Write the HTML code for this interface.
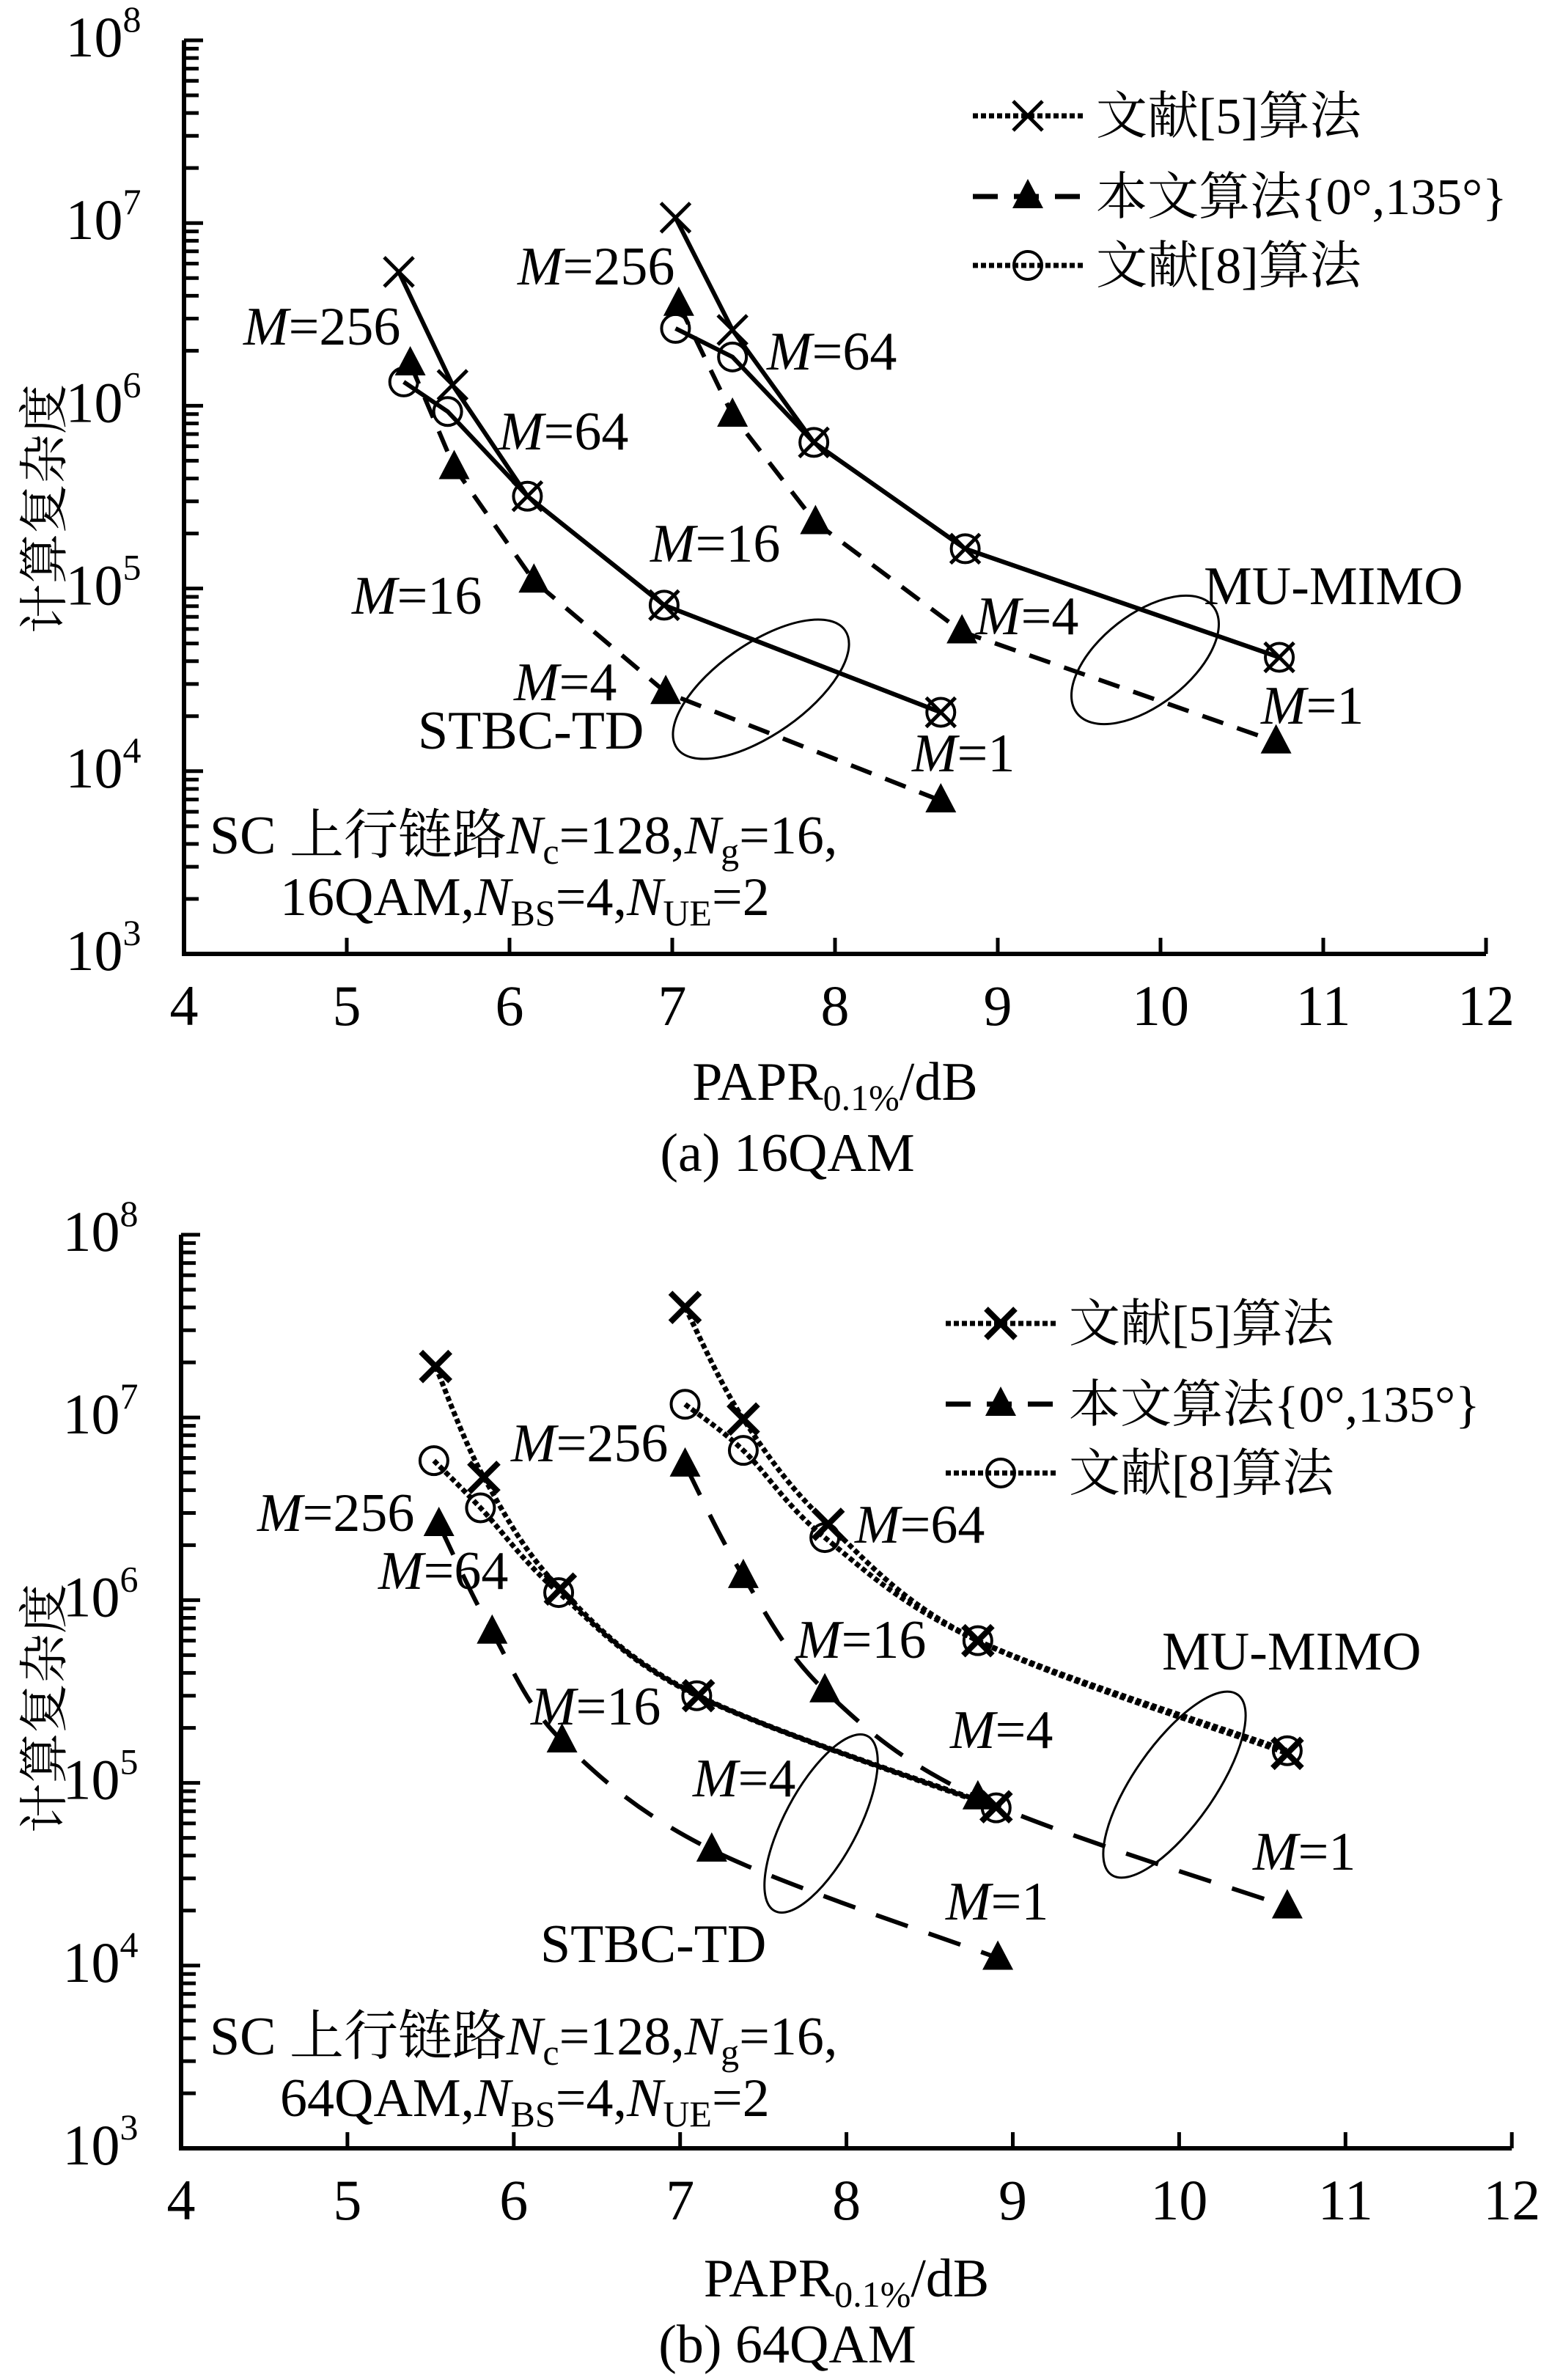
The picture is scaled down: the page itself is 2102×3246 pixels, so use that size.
<!DOCTYPE html>
<html><head><meta charset="utf-8"><style>
html,body{margin:0;padding:0;background:#fff;}
svg{display:block;}
svg text{font-family:"Liberation Serif","Noto Serif CJK SC",serif;fill:#000;}
</style></head><body>
<svg id="fig" width="2102" height="3246" viewBox="0 0 2102 3246" xmlns="http://www.w3.org/2000/svg" font-family="'Liberation Serif','Noto Serif CJK SC',serif"></svg>
<script>
// ---- Data: panel (a) 16QAM ----
const aRef5X_L=[5.32,5.65,6.11,6.95,8.65];
const aRef5Y_L=[5.4e6,1.3e6,3.2e5,8.1e4,2.1e4];
const aRef8X_L=[5.35,5.62,6.11,6.95,8.65];
const aRef8Y_L=[1.35e6,9.3e5,3.2e5,8.1e4,2.1e4];
const aOurX_L=[5.39,5.66,6.15,6.96,8.65];
const aOurY_L=[1.7e6,4.6e5,1.1e5,2.7e4,6.9e3];
const aRef5X_R=[7.02,7.37,7.87,8.80,10.73];
const aRef5Y_R=[1.07e7,2.6e6,6.3e5,1.65e5,4.2e4];
const aRef8X_R=[7.02,7.37,7.87,8.80,10.73];
const aRef8Y_R=[2.65e6,1.85e6,6.3e5,1.65e5,4.2e4];
const aOurX_R=[7.04,7.37,7.88,8.78,10.71];
const aOurY_R=[3.6e6,8.9e5,2.3e5,5.8e4,1.45e4];
// ---- Data: panel (b) 64QAM ----
const bRef5X_L=[5.53,5.82,6.28,7.11,8.90];
const bRef5Y_L=[1.9e7,4.7e6,1.15e6,3.0e5,7.4e4];
const bRef8X_L=[5.52,5.80,6.27,7.10,8.90];
const bRef8Y_L=[5.8e6,3.2e6,1.1e6,3.0e5,7.3e4];
const bOurX_L=[5.55,5.87,6.29,7.19,8.91];
const bOurY_L=[2.6e6,6.7e5,1.7e5,4.3e4,1.1e4];
const bRef5X_R=[7.03,7.38,7.89,8.79,10.65];
const bRef5Y_R=[4.0e7,9.8e6,2.6e6,6.0e5,1.45e5];
const bRef8X_R=[7.03,7.38,7.87,8.79,10.65];
const bRef8Y_R=[1.18e7,6.6e6,2.2e6,6.0e5,1.5e5];
const bOurX_R=[7.03,7.38,7.87,8.79,10.65];
const bOurY_R=[5.5e6,1.35e6,3.2e5,8.3e4,2.1e4];
// ---- Axis ticks ----
const xTicks=[4,5,6,7,8,9,10,11,12];
const yExps=[3,4,5,6,7,8];

const NS="http://www.w3.org/2000/svg";
const FF="'Liberation Serif','Noto Serif CJK SC',serif";
const svg=document.getElementById('fig');
function mk(tag,attrs,parent){const e=document.createElementNS(NS,tag);for(const k in attrs)e.setAttribute(k,attrs[k]);if(tag==='text')e.setAttribute('font-family',FF);(parent||svg).appendChild(e);return e;}

function panel(P){
  const g=mk('g',{});
  
  
  const sx=v=>P.x0+(v-4)*P.xu;
  const sy=v=>P.y8+(8-Math.log10(v))*P.dec;
  const y3=P.y8+5*P.dec, x12=sx(12);
  const ax=mk('path',{d:`M${P.x0} ${P.y8} V${y3} H${x12}`,fill:'none',stroke:'#000','stroke-width':6},g);
  
  
  xTicks.forEach(t=>{
    if(t>4) mk('line',{x1:sx(t),x2:sx(t),y1:y3,y2:y3-22,stroke:'#000','stroke-width':5},g);
    const tl=mk('text',{x:sx(t),y:P.xty,'font-size':78,'text-anchor':'middle'},g);
    tl.textContent=t;
    
    
  });
  yExps.forEach(e=>{
    const y=P.y8+(8-e)*P.dec;
    mk('line',{x1:P.x0,x2:P.x0+26,y1:y,y2:y,stroke:'#000','stroke-width':5},g);
    if(e<8){for(let m=2;m<=9;m++){const yy=P.y8+(8-e-Math.log10(m))*P.dec;mk('line',{x1:P.x0,x2:P.x0+20,y1:yy,y2:yy,stroke:'#000','stroke-width':5},g);}}
    const tl=mk('text',{x:P.x0-110,y:y+22,'font-size':78,'text-anchor':'middle'},g);
    
    
    tl.innerHTML=`10<tspan dy="-34" font-size="50">${e}</tspan>`;
  });
  function path(xs,ys,smooth){
    const p=xs.map((x,i)=>[sx(x),sy(ys[i])]);
    if(!smooth) return 'M'+p.map(q=>q.join(' ')).join(' L');
    let d=`M${p[0][0]} ${p[0][1]}`;
    for(let i=0;i<p.length-1;i++){
      const a=p[i-1]||p[i],b=p[i],c=p[i+1],e=p[i+2]||c;
      d+=` C${b[0]+(c[0]-a[0])/6} ${b[1]+(c[1]-a[1])/6} ${c[0]-(e[0]-b[0])/6} ${c[1]-(e[1]-b[1])/6} ${c[0]} ${c[1]}`;
    }
    return d;
  }
  function marker(type,x,y,parent){
    if(type==='x'){mk('path',{d:`M${x-20} ${y-20} L${x+20} ${y+20} M${x-20} ${y+20} L${x+20} ${y-20}`,stroke:'#000','stroke-width':P.xw,fill:'none'},parent);}
    else if(type==='o'){mk('circle',{cx:x,cy:y,r:19,fill:'none',stroke:'#000','stroke-width':4},parent);}
    else {mk('path',{d:`M${x} ${y-24} L${x+21} ${y+16} L${x-21} ${y+16} Z`,fill:'#000'},parent);}
  }
  const series=[
    {n:'ref8',t:'o',sets:[[P.d.r8xL,P.d.r8yL],[P.d.r8xR,P.d.r8yR]],dash:P.dotDash,w:P.dotW},
    {n:'ref5',t:'x',sets:[[P.d.r5xL,P.d.r5yL],[P.d.r5xR,P.d.r5yR]],dash:P.dotDash,w:P.dotW},
    {n:'proposed',t:'t',sets:[[P.d.oxL,P.d.oyL],[P.d.oxR,P.d.oyR]],dash:P.dash,w:6}
  ];
  series.forEach(s=>{
    s.sets.forEach((st,k)=>{
      const sg=mk('g',{},g);
      
      
      mk('path',{d:path(st[0],st[1],P.smooth),fill:'none',stroke:'#000','stroke-width':s.w,'stroke-dasharray':s.dash},sg);
      st[0].forEach((x,i)=>marker(s.t,sx(x),sy(st[1][i]),sg));
    });
  });
  const lg=mk('g',{},g);
  
  
  const lt=['文献[5]算法','本文算法{0°,135°}','文献[8]算法'], lm=['x','t','o'];
  lt.forEach((t,i)=>{
    const y=P.legY[i];
    const eg=mk('g',{},lg);
    
    
    mk('line',{x1:P.legX,x2:P.legX+150,y1:y,y2:y,stroke:'#000','stroke-width':i==1?7:7,'stroke-dasharray':i==1?'34 22':'7 4'},eg);
    marker(lm[i],P.legX+75,y,eg);
    const tx=mk('text',{x:P.legX+168,y:y+24,'font-size':70},eg);
    tx.textContent=t;
  });
  P.ann.forEach(a=>{
    const t=mk('text',{x:a[0],y:a[1]+26,'font-size':74},g);
    
    
    if(a[2].startsWith('M=')) t.innerHTML=`<tspan font-style="italic">M</tspan>${a[2].slice(1)}`; else t.textContent=a[2];
  });
  P.ell.forEach(e=>{
    const el=mk('ellipse',{cx:e[0],cy:e[1],rx:e[2],ry:e[3],transform:`rotate(${e[4]} ${e[0]} ${e[1]})`,fill:'none',stroke:'#000','stroke-width':3},g);
    
    
  });
  const p1=mk('text',{x:286,y:P.p1y+26,'font-size':74},g);
  
  
  p1.innerHTML='SC 上行链路<tspan font-style="italic">N</tspan><tspan font-size="50" dy="14">c</tspan><tspan dy="-14">=128,</tspan><tspan font-style="italic">N</tspan><tspan font-size="50" dy="14">g</tspan><tspan dy="-14">=16,</tspan>';
  const p2=mk('text',{x:382,y:P.p1y+110,'font-size':74},g);
  
  
  p2.innerHTML=`${P.qam},<tspan font-style="italic">N</tspan><tspan font-size="50" dy="14">BS</tspan><tspan dy="-14">=4,</tspan><tspan font-style="italic">N</tspan><tspan font-size="50" dy="14">UE</tspan><tspan dy="-14">=2</tspan>`;
  const xl=mk('text',{x:(P.x0+x12)/2,y:P.xly+26,'font-size':74,'text-anchor':'middle'},g);
  
  
  xl.innerHTML='PAPR<tspan font-size="50" dy="14">0.1%</tspan><tspan dy="-14">/dB</tspan>';
  const yl=mk('text',{x:0,y:0,'font-size':68,'text-anchor':'middle',transform:`translate(84 ${P.yly}) rotate(-90)`},g);
  
  
  yl.textContent='计算复杂度';
  const cap=mk('text',{x:1074,y:P.capy+26,'font-size':74,'text-anchor':'middle'},g);
  
  
  cap.textContent=P.cap;
}

panel({name:'panel-a-16qam',x0:251,xu:222,y8:55,dec:249.2,xty:1398,xly:1474,yly:694,capy:1571,cap:'(a) 16QAM',qam:'16QAM',p1y:1138,
  smooth:false,dotDash:'none',dotW:6,dash:'30 20',xw:5,legX:1327,legY:[158,268,362],
  d:{r5xL:aRef5X_L,r5yL:aRef5Y_L,r8xL:aRef8X_L,r8yL:aRef8Y_L,oxL:aOurX_L,oyL:aOurY_L,r5xR:aRef5X_R,r5yR:aRef5Y_R,r8xR:aRef8X_R,r8yR:aRef8Y_R,oxR:aOurX_R,oyR:aOurY_R},
  ann:[[332,444,'M=256'],[706,362,'M=256'],[1046,478,'M=64'],[680,587,'M=64'],[887,740,'M=16'],[480,811,'M=16'],[1642,798,'MU-MIMO'],[1331,839,'M=4'],[701,929,'M=4'],[570,995,'STBC-TD'],[1720,961,'M=1'],[1244,1026,'M=1']],
  ell:[[1038,940,140,62,-35],[1562,900,118,62,-38]]});
panel({name:'panel-b-64qam',x0:247,xu:226.9,y8:1684,dec:249.2,xty:3027,xly:3106,yly:2330,capy:3196,cap:'(b) 64QAM',qam:'64QAM',p1y:2776,
  smooth:true,dotDash:'7 4',dotW:7,dash:'46 30',xw:8,legX:1290,legY:[1805,1915,2009],
  d:{r5xL:bRef5X_L,r5yL:bRef5Y_L,r8xL:bRef8X_L,r8yL:bRef8Y_L,oxL:bOurX_L,oyL:bOurY_L,r5xR:bRef5X_R,r5yR:bRef5Y_R,r8xR:bRef8X_R,r8yR:bRef8Y_R,oxR:bOurX_R,oyR:bOurY_R},
  ann:[[697,1967,'M=256'],[351,2062,'M=256'],[516,2141,'M=64'],[1166,2078,'M=64'],[1086,2235,'M=16'],[1585,2251,'MU-MIMO'],[724,2326,'M=16'],[1296,2358,'M=4'],[945,2424,'M=4'],[1709,2524,'M=1'],[1290,2592,'M=1'],[737,2650,'STBC-TD']],
  ell:[[1120,2487,135,50,-62],[1602,2434,150,55,-55]]});
</script>
</body></html>
